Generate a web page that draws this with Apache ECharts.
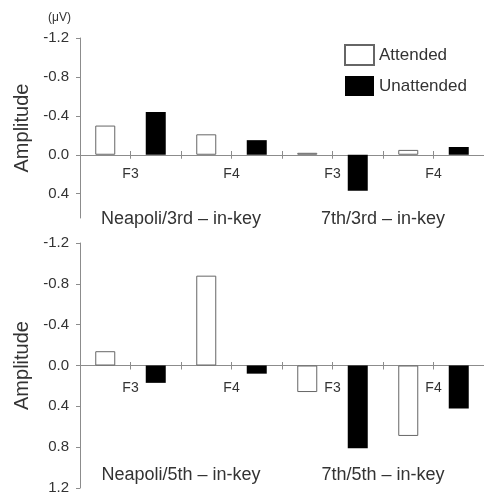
<!DOCTYPE html>
<html>
<head>
<meta charset="utf-8">
<script src="https://cdn.jsdelivr.net/npm/echarts@6/dist/echarts.min.js"></script>
<style>
  html, body { margin: 0; padding: 0; background: #fff; }
  #chart { width: 484px; height: 496px; }
</style>
</head>
<body>
<div id="chart"></div>
<script>
var electrodes = ['F3', 'F4', 'F3', 'F4'];
var topGroups = ['Neapoli/3rd – in-key', '7th/3rd – in-key'];
var bottomGroups = ['Neapoli/5th – in-key', '7th/5th – in-key'];
// amplitude in µV, negative is drawn upward
var topAttended = [-0.30, -0.21, -0.02, -0.05];
var topUnattended = [-0.44, -0.15, 0.37, -0.08];
var bottomAttended = [-0.14, -0.88, 0.26, 0.69];
var bottomUnattended = [0.17, 0.08, 0.81, 0.42];
var topTicks = [-1.2, -0.8, -0.4, 0, 0.4];
var bottomTicks = [-1.2, -0.8, -0.4, 0, 0.4, 0.8, 1.2];

var axisGray = '#8c8c8c';
var textColor = '#333';

// one category per bar, attended and unattended alternate
var slots = [];
electrodes.forEach(function (e, i) { slots.push(e + 'a' + i, e + 'u' + i); });

function spread(vals, offset) {
  var out = [];
  for (var i = 0; i < slots.length; i++) out.push('-');
  vals.forEach(function (v, i) { out[i * 2 + offset] = v; });
  return out;
}

function fmt(v) {
  return (Math.abs(v) < 1e-9 ? 0 : v).toFixed(1);
}

// zeroShift: distance from grid bottom up to the zero line
function xAxesFor(grid, groups, zeroShift, elMargin, groupMargin) {
  return [
    {
      type: 'category', gridIndex: grid, data: slots, position: 'bottom',
      axisLine: { onZero: true, lineStyle: { color: axisGray, width: 1 } },
      axisTick: { show: true, interval: 0, inside: false, length: 4, lineStyle: { color: axisGray } },
      axisLabel: { show: false, interval: 0 }
    },
    {
      type: 'category', gridIndex: grid, data: slots, position: 'bottom', offset: -zeroShift,
      axisLine: { show: false, onZero: false },
      axisTick: { show: true, interval: 0, inside: true, length: 4, lineStyle: { color: axisGray } },
      axisLabel: { show: false, interval: 0 }
    },
    {
      type: 'category', gridIndex: grid, data: electrodes, position: 'bottom', offset: -zeroShift,
      axisLine: { show: false, onZero: false },
      axisTick: { show: false },
      axisLabel: { interval: 0, margin: elMargin, fontSize: 14, color: textColor }
    },
    {
      type: 'category', gridIndex: grid, data: groups, position: 'bottom', offset: -zeroShift,
      axisLine: { show: false, onZero: false },
      axisTick: { show: false },
      axisLabel: { interval: 0, margin: groupMargin, fontSize: 18, color: textColor }
    }
  ];
}

function yAxisFor(grid, max, ticks) {
  return {
    type: 'value', gridIndex: grid, inverse: true,
    min: -1.2, max: max, interval: 0.4,
    name: 'Amplitude', nameLocation: 'middle', nameRotate: 90, nameGap: 46,
    nameTextStyle: { fontSize: 20, color: textColor },
    axisLine: { show: true, lineStyle: { color: axisGray, width: 1 } },
    axisTick: { show: true, length: 4, customValues: ticks, lineStyle: { color: axisGray } },
    axisLabel: { customValues: ticks, formatter: fmt, margin: 11, fontSize: 15, color: textColor },
    splitLine: { show: false }
  };
}

var attendedStyle = { color: '#fff', borderColor: '#666', borderWidth: 1 };
var unattendedStyle = { color: '#000' };

var myChart = echarts.init(document.getElementById('chart'));
var option = {
  animation: false,
  textStyle: { fontFamily: 'Liberation Sans, Arial, sans-serif' },
  title: {
    text: '(μV)', left: 43, top: 7,
    textStyle: { fontSize: 12, fontWeight: 'normal', color: textColor }
  },
  legend: {
    data: ['Attended', 'Unattended'],
    orient: 'vertical', left: 339, top: 39,
    icon: 'rect', itemWidth: 29, itemHeight: 20, itemGap: 10,
    textStyle: { fontSize: 17, color: textColor }
  },
  grid: [
    { left: 80, top: 38, width: 404, height: 180, outerBoundsMode: 'none', containLabel: false },
    { left: 80, top: 243, width: 404, height: 245, outerBoundsMode: 'none', containLabel: false }
  ],
  xAxis: xAxesFor(0, topGroups, 63, 12, 55).concat(xAxesFor(1, bottomGroups, 122, 15, 100)),
  yAxis: [yAxisFor(0, 0.65, topTicks), yAxisFor(1, 1.2, bottomTicks)],
  series: [
    { name: 'Attended', type: 'bar', xAxisIndex: 0, yAxisIndex: 0, barWidth: 20, barGap: '-100%',
      itemStyle: attendedStyle, data: spread(topAttended, 0) },
    { name: 'Unattended', type: 'bar', xAxisIndex: 0, yAxisIndex: 0, barWidth: 20, barGap: '-100%',
      itemStyle: unattendedStyle, data: spread(topUnattended, 1) },
    { name: 'Attended', type: 'bar', xAxisIndex: 4, yAxisIndex: 1, barWidth: 20, barGap: '-100%',
      itemStyle: attendedStyle, data: spread(bottomAttended, 0) },
    { name: 'Unattended', type: 'bar', xAxisIndex: 4, yAxisIndex: 1, barWidth: 20, barGap: '-100%',
      itemStyle: unattendedStyle, data: spread(bottomUnattended, 1) }
  ]
};
myChart.setOption(option);
window.addEventListener('resize', function () {
  myChart.resize();
});
</script>
</body>
</html>
